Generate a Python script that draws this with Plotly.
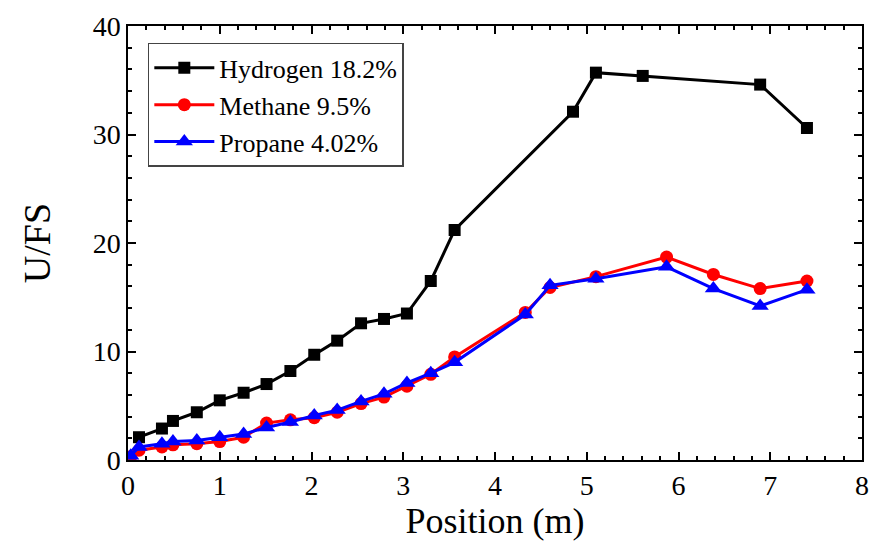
import plotly.graph_objects as go

# Data
h2_x = [0.12, 0.37, 0.49, 0.75, 1.00, 1.26, 1.51, 1.77, 2.03, 2.28, 2.54, 2.79,
        3.04, 3.30, 3.56, 4.85, 5.10, 5.61, 6.89, 7.40]
h2_y = [2.1, 2.9, 3.6, 4.4, 5.5, 6.2, 7.0, 8.2, 9.7, 11.0, 12.6, 13.0,
        13.5, 16.5, 21.2, 32.1, 35.7, 35.4, 34.6, 30.6]

hc_x = [0.03, 0.12, 0.37, 0.49, 0.75, 1.00, 1.26, 1.51, 1.77, 2.03, 2.28, 2.54,
        2.79, 3.04, 3.30, 3.56, 4.33, 4.60, 5.10, 5.87, 6.38, 6.89, 7.40]
ch4_y = [0.3, 0.9, 1.2, 1.4, 1.5, 1.7, 2.1, 3.4, 3.7, 3.9, 4.4, 5.2,
         5.8, 6.8, 7.9, 9.5, 13.6, 15.9, 16.9, 18.7, 17.1, 15.8, 16.5]
c3h8_y = [0.4, 1.2, 1.5, 1.7, 1.8, 2.1, 2.4, 3.0, 3.5, 4.1, 4.6, 5.4,
          6.1, 7.1, 8.0, 9.0, 13.4, 16.1, 16.7, 17.8, 15.8, 14.2, 15.7]

names = ["Hydrogen 18.2%", "Methane 9.5%", "Propane 4.02%"]
colors = ["#000000", "#ff0000", "#0000ff"]
symbols = ["square", "circle", "triangle-up"]
sizes = [12, 13, 15]

fig = go.Figure()
series = [(h2_x, h2_y), (hc_x, ch4_y), (hc_x, c3h8_y)]
for (xs, ys), n, c, s, sz in zip(series, names, colors, symbols, sizes):
    fig.add_trace(go.Scatter(
        x=xs, y=ys, name=n, mode="lines+markers",
        line=dict(color=c, width=3),
        marker=dict(symbol=s, size=sz, color=c),
    ))

font = "'Liberation Serif', 'Times New Roman', Times, 'DejaVu Serif', serif"
axis_common = dict(
    showgrid=False, zeroline=False, showline=True, linecolor="black",
    linewidth=1.5, mirror="ticks", ticks="inside", ticklen=8, tickwidth=1.5,
    tickcolor="black", tickfont=dict(family=font, size=28, color="black"),
    minor=dict(ticks="inside", ticklen=4, tickwidth=1.5, tickcolor="black"),
)

fig.update_xaxes(range=[0, 8], dtick=1, **axis_common,
                 title=dict(text="Position (m)", font=dict(family=font, size=36, color="black"),
                            standoff=4))
fig.update_yaxes(range=[0, 40], dtick=10, **axis_common,
                 title=dict(text="U/FS", font=dict(family=font, size=38, color="black"),
                            standoff=30))

fig.update_layout(
    width=880, height=546,
    margin=dict(l=128, r=18, t=26, b=86),
    paper_bgcolor="white", plot_bgcolor="white",
    font=dict(family=font),
    legend=dict(x=0.027, y=0.961, xanchor="left", yanchor="top",
                bordercolor="#444444", borderwidth=1.5, bgcolor="white",
                font=dict(family=font, size=26, color="black"),
                tracegroupgap=0, itemwidth=60),
    showlegend=True,
)

fig.write_html("out.html")
